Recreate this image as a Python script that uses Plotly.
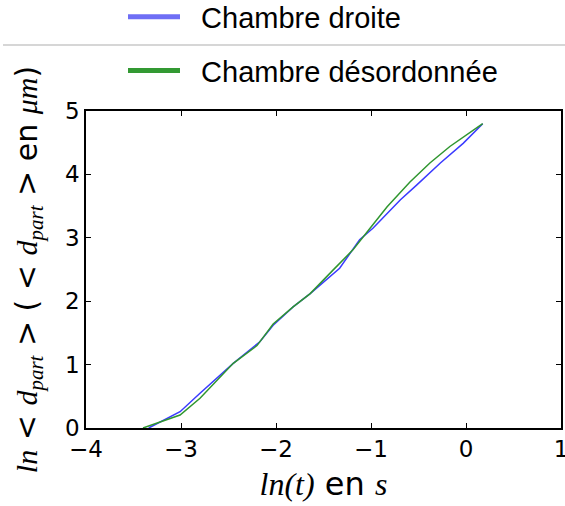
import plotly.graph_objects as go

# Data
x_droite = [-3.34, -3.01, -2.80, -2.45, -2.17, -2.03, -1.82, -1.64, -1.33, -1.12, -0.98, -0.69, -0.52, -0.27, -0.03, 0.176]
y_droite = [0.0, 0.257, 0.547, 1.02, 1.36, 1.62, 1.91, 2.12, 2.52, 2.97, 3.15, 3.60, 3.83, 4.18, 4.49, 4.80]

x_desord = [-3.40, -3.01, -2.80, -2.45, -2.20, -2.03, -1.82, -1.64, -1.40, -1.19, -1.01, -0.83, -0.59, -0.38, -0.17, -0.06, 0.176]
y_desord = [0.0, 0.205, 0.47, 1.02, 1.30, 1.64, 1.91, 2.12, 2.49, 2.81, 3.15, 3.49, 3.88, 4.18, 4.44, 4.55, 4.80]

x_ticks = [-4, -3, -2, -1, 0, 1]
x_ticklabels = ["\u22124", "\u22123", "\u22122", "\u22121", "0", "1"]
y_ticks = [0, 1, 2, 3, 4, 5]

names = ["Chambre droite", "Chambre désordonnée"]
line_colors = ["#3a3aff", "#2f962f"]
legend_colors = ["#6e6ef5", "#339933"]

fig = go.Figure()
fig.add_trace(go.Scatter(x=x_droite, y=y_droite, mode="lines",
                         line=dict(color=line_colors[0], width=1.5), showlegend=False))
fig.add_trace(go.Scatter(x=x_desord, y=y_desord, mode="lines",
                         line=dict(color=line_colors[1], width=1.5), showlegend=False))
for i, nm in enumerate(names):
    fig.add_trace(go.Scatter(x=[None], y=[None], mode="lines",
                             line=dict(color=legend_colors[i], width=5),
                             name="\u00a0\u00a0" + nm, legendgroup="g%d" % i))

serif = "font-family:'Liberation Serif',serif;font-style:italic"
ytitle = (f"<span style=\"{serif}\">ln</span> < <span style=\"{serif}\">d<sub>part</sub></span> > "
          f"( < <span style=\"{serif}\">d<sub>part</sub></span> > en <span style=\"{serif}\">μm</span>)")
xtitle = f"<span style=\"{serif}\">ln(t)</span> en <span style=\"{serif}\">s</span>"

axis_common = dict(showline=True, linecolor="black", linewidth=1.5, mirror="ticks",
                   ticks="inside", ticklen=5, tickwidth=1, tickcolor="black",
                   showgrid=False, zeroline=False, ticklabeloverflow="allow",
                   tickfont=dict(family="DejaVu Sans", size=23, color="black"))

fig.update_layout(
    width=565, height=506,
    margin=dict(l=86, r=4, t=111, b=78, autoexpand=False),
    paper_bgcolor="white", plot_bgcolor="white",
    xaxis=dict(range=[-4, 1], tickvals=x_ticks, ticktext=x_ticklabels,
               title=dict(text=xtitle, font=dict(family="DejaVu Sans", size=32, color="black"), standoff=11),
               **axis_common),
    yaxis=dict(range=[0, 5], tickvals=y_ticks,
               title=dict(text=ytitle, font=dict(family="DejaVu Sans", size=30, color="black"), standoff=19),
               **axis_common),
    legend=dict(x=(123 - 86) / 475, xanchor="left", y=(428 + 8.5) / 317, yanchor="top",
                font=dict(family="Liberation Sans", size=29, color="black"),
                itemwidth=52, tracegroupgap=13, bgcolor="rgba(0,0,0,0)"),
    shapes=[dict(type="line", xref="paper", yref="paper",
                 x0=(3 - 86) / 475, x1=(565 - 86) / 475,
                 y0=(428 - 45) / 317, y1=(428 - 45) / 317,
                 line=dict(color="#c8c8c8", width=1.5))],
)

fig.write_html("out.html", config={"displayModeBar": False},
               post_script="document.body.style.margin='0';document.body.style.overflow='hidden';")
